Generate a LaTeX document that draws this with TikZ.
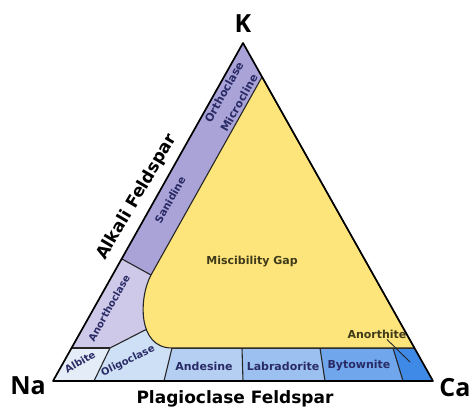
\documentclass[tikz,border=0pt]{standalone}
\usepackage{fontspec}
\setmainfont{DejaVu Sans}
\newfontfamily\cornerfont{Open Sans}
\usepackage{tikz}
\usetikzlibrary{calc}
\definecolor{fsnavy}{HTML}{2A2B66}
\definecolor{fsolive}{HTML}{3F3A1A}
\definecolor{fsalkali}{HTML}{A9A3D8}
\definecolor{fsanortho}{HTML}{CEC9E9}
\definecolor{fsalbite}{HTML}{E4ECF8}
\definecolor{fsoligo}{HTML}{CDE0F6}
\definecolor{fsandes}{HTML}{B4CFF2}
\definecolor{fslabra}{HTML}{9CC1F0}
\definecolor{fsbytow}{HTML}{6FA6EC}
\definecolor{fsanorth}{HTML}{3F8AE6}
\definecolor{fsgap}{HTML}{FDE57B}

\begin{document}
\begin{tikzpicture}[
    x=1pt, y=-1pt, line join=round,
    edge/.style={draw=black, line width=1.7pt},
    split/.style={draw=black!85, line width=1.1pt},
    corner/.style={font=\cornerfont\bfseries\fontsize{25}{25}\selectfont, inner sep=0pt, anchor=base},
    series/.style={font=\bfseries\fontsize{17}{17}\selectfont, inner sep=0pt},
    mineral/.style={font=\bfseries\fontsize{10.5}{10.5}\selectfont, text=fsnavy, inner sep=0pt},
    gaplabel/.style={font=\bfseries\fontsize{11}{11}\selectfont, text=fsolive, inner sep=0pt}
]
\useasboundingbox (0,0) rectangle (472,407);

% Corners
\coordinate (K) at (243,43);
\coordinate (Na) at (53,381);
\coordinate (Ca) at (433,381);

% Alkali strip
\coordinate (kin) at (262,77);
\coordinate (sanl) at (122,259);
\coordinate (sanr) at (151,275);
\coordinate (anob) at (149,328);

% Plagioclase strip
\coordinate (pl) at (71.5,348);
\coordinate (pr) at (414.5,348);
\coordinate (abt) at (110,348);
\coordinate (abb) at (94,381);
\coordinate (olt) at (172,348);
\coordinate (olb) at (164,381);
\coordinate (ant) at (242,348);
\coordinate (anb) at (243,381);
\coordinate (lbt) at (320,348);
\coordinate (lbb) at (325,381);
\coordinate (byt) at (393,348);
\coordinate (byb) at (403,381);

% Fills
\fill[fsanortho] (K) -- (Na) -- (Ca) -- cycle;
\fill[fsalkali] (K) -- (kin) -- (sanr) -- (sanl) -- cycle;
\fill[fsalbite] (pl) -- (abt) -- (abb) -- (Na) -- cycle;
\fill[fsoligo] (abt) -- (anob) -- (170,326) -- (olt) -- (olb) -- (abb) -- cycle;
\fill[fsandes] (olt) -- (ant) -- (anb) -- (olb) -- cycle;
\fill[fslabra] (ant) -- (lbt) -- (lbb) -- (anb) -- cycle;
\fill[fsbytow] (lbt) -- (byt) -- (byb) -- (lbb) -- cycle;
\fill[fsanorth] (byt) -- (pr) -- (Ca) -- (byb) -- cycle;

% Dividers
\draw[split] (sanl) -- (sanr);
\draw[split] (abt) -- ($(abt)!1.1!(anob)$);
\draw[split] (pl) -- (abt);
\draw[split] (abt) -- (abb);
\draw[split] (olt) -- (olb);
\draw[split] (ant) -- (anb);
\draw[split] (lbt) -- (lbb);
\draw[split] (byt) -- (byb);
\draw[split] (olt) -- (pr);

% Miscibility gap
\draw[split, fill=fsgap] (kin) -- (pr) -- (olt)
    .. controls (137,348) and (139,297) .. (sanr) -- cycle;

% Outline
\draw[edge] (K) -- (Na) -- (Ca) -- cycle;

% Labels
\node[corner] (lk) at (243,32) {K};
\node[corner] (lna) at (28,394) {Na};
\node[corner] (lca) at (455,396) {Ca};
\node[series, anchor=base] (lplag) at (235,403) {Plagioclase Feldspar};
\node[series, rotate=59.5] (lalk) at (137,197) {Alkali Feldspar};

\node[mineral, font=\bfseries\fontsize{11}{11}\selectfont, rotate=60.6] (orth) at (224,92) {Orthoclase};
\node[mineral, font=\bfseries\fontsize{11}{11}\selectfont, rotate=60.6] (micro) at (239,103) {Microcline};
\node[mineral, rotate=60.6] (sani) at (170,200) {Sanidine};
\node[mineral, font=\bfseries\fontsize{10}{10}\selectfont, rotate=60.6] (anoc) at (109,308) {Anorthoclase};
\node[mineral, font=\bfseries\fontsize{10}{10}\selectfont, rotate=30] (albi) at (80,362) {Albite};
\node[mineral, font=\bfseries\fontsize{10}{10}\selectfont, rotate=26] (olig) at (128,361) {Oligoclase};
\node[mineral, font=\bfseries\fontsize{11}{11}\selectfont] (ande) at (204,366) {Andesine};
\node[mineral, font=\bfseries\fontsize{11}{11}\selectfont] (labr) at (283,366) {Labradorite};
\node[mineral, font=\bfseries\fontsize{11}{11}\selectfont] (byto) at (359,366) {Bytownite};

\node[gaplabel] (misc) at (252,262) {Miscibility Gap};
\node[gaplabel] (anth) at (377,334) {Anorthite};
\coordinate (anthend) at (410,362);
\draw[split, line width=0.9pt] (anth.south) ++(10,1) coordinate (anthstart) (anthstart) -- (anthend);

\end{tikzpicture}
\end{document}
